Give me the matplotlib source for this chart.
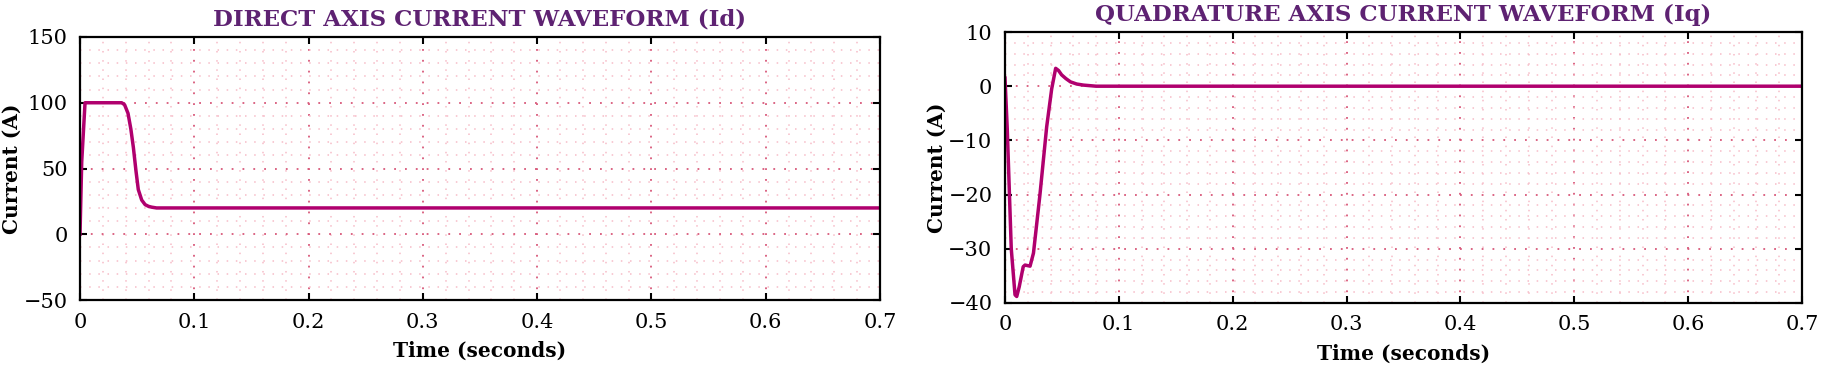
import matplotlib
matplotlib.use('Agg')
import matplotlib.pyplot as plt
from matplotlib.ticker import MultipleLocator, AutoMinorLocator
import numpy as np

# direct axis current
t_id = [0.0, 0.0015, 0.0044, 0.010, 0.020, 0.030, 0.0365, 0.039, 0.042, 0.0445, 0.0467,
        0.049, 0.051, 0.054, 0.057, 0.060, 0.0627, 0.067, 0.1, 0.3, 0.5, 0.7]
id_vals = [0.0, 55.0, 100.0, 100.0, 100.0, 100.0, 100.0, 98.5, 92.0, 80.0, 66.0,
           48.0, 34.0, 26.0, 22.5, 21.2, 20.6, 20.0, 20.0, 20.0, 20.0, 20.0]

# quadrature axis current
t_iq = [0.0, 0.002, 0.0055, 0.0088, 0.0103, 0.0125, 0.016, 0.0176, 0.022, 0.025, 0.0307,
        0.0366, 0.041, 0.0445, 0.047, 0.0497, 0.0535, 0.0575, 0.063, 0.069, 0.08, 0.1, 0.3, 0.5, 0.7]
iq_vals = [1.5, -8.0, -30.0, -38.5, -38.8, -37.0, -33.3, -33.0, -33.2, -30.8, -20.0,
           -7.5, -0.5, 3.3, 2.9, 2.1, 1.4, 0.8, 0.4, 0.2, 0.0, 0.0, 0.0, 0.0, 0.0]

titles = ['DIRECT AXIS CURRENT WAVEFORM (Id)', 'QUADRATURE AXIS CURRENT WAVEFORM (Iq)']
xticks = [0, 0.1, 0.2, 0.3, 0.4, 0.5, 0.6, 0.7]
xticklabels = ['0', '0.1', '0.2', '0.3', '0.4', '0.5', '0.6', '0.7']

plt.rcParams['font.family'] = 'DejaVu Serif'
line_col = '#b0006e'
title_col = '#5e2272'

fig = plt.figure(figsize=(18.25, 3.71), dpi=100)
ax1 = fig.add_axes([80/1825, 1-300/371, 800/1825, 263/371])
ax2 = fig.add_axes([1005/1825, 1-303/371, 797/1825, 271/371])

setups = [
    (ax1, t_id, id_vals, (-50, 150), 50, 5),
    (ax2, t_iq, iq_vals, (-40, 10), 10, 5),
]
for i, (ax, t, v, ylim, ystep, nminor) in enumerate(setups):
    ax.plot(t, v, color=line_col, lw=2.5, solid_joinstyle='round')
    ax.set_xlim(0, 0.7)
    ax.set_ylim(*ylim)
    ax.set_xticks(xticks)
    ax.set_xticklabels(xticklabels)
    ax.yaxis.set_major_locator(MultipleLocator(ystep))
    ax.xaxis.set_minor_locator(AutoMinorLocator(5))
    ax.yaxis.set_minor_locator(AutoMinorLocator(nminor))
    ax.grid(which='major', color='#d8587a', linestyle=(0, (1, 5)), lw=1.3)
    ax.grid(which='minor', color='#f7bcc8', linestyle=(0, (1, 5)), lw=1.1)
    ax.tick_params(which='major', direction='in', length=5, width=1.5,
                   top=True, right=True, labelsize=15, pad=9)
    ax.tick_params(which='minor', length=0)
    for lab in ax.get_xticklabels() + ax.get_yticklabels():
        lab.set_fontweight('medium')
    for s in ax.spines.values():
        s.set_linewidth(1.6)
    ax.set_xlabel('Time (seconds)', fontsize=14.5, fontweight='bold', labelpad=7)
    ax.set_ylabel('Current (A)', fontsize=14.5, fontweight='bold', labelpad=1)
    ax.set_title(titles[i], fontsize=16.5, fontweight='bold', color=title_col, pad=8)

fig.savefig('out.png', dpi=100)
